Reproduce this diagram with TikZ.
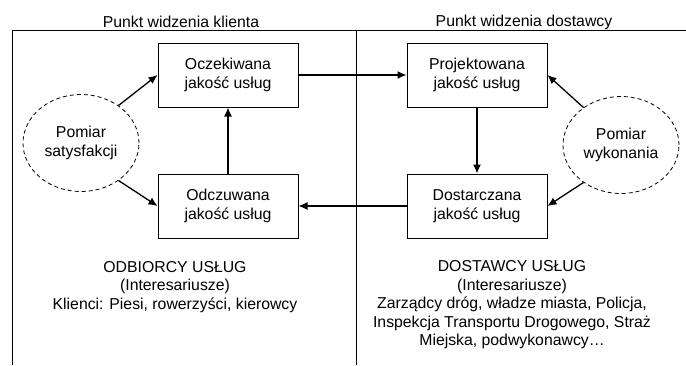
\documentclass[tikz,border=0pt]{standalone}
\usepackage{fontspec}
\setmainfont{Liberation Sans}
\usetikzlibrary{shapes.geometric,arrows.meta}
\tikzset{qbox/.style={draw,line width=1pt,minimum width=140pt,minimum height=64pt,align=center,inner sep=0pt}}
\tikzset{pomiar/.style={ellipse,draw,dash pattern=on 4pt off 3pt,line width=0.8pt,minimum width=116pt,minimum height=97pt,align=center,inner sep=0pt}}
\tikzset{strz/.style={-{Latex[length=9pt,width=8pt]},line width=1.3pt}}
\tikzset{frame/.style={line width=1pt}}
\begin{document}
\begin{tikzpicture}[x=1pt,y=-1pt,font=\fontsize{15.8pt}{18.5pt}\selectfont]
            \useasboundingbox (0,0) rectangle (686,365);
            % draw the frame
            \draw[frame] (12,365) -- (12,30) -- (686,30);
            \draw[frame] (356,30) -- (356,365);
            \node (tklient) at (181,22) {Punkt widzenia klienta};
            \node (tdostawca) at (524,22) {Punkt widzenia dostawcy};
            % draw the boxes
            \node[qbox] (ocz) at (228,75) {Oczekiwana\\jakość usług};
            \node[qbox] (odcz) at (228,206) {Odczuwana\\jakość usług};
            \node[qbox] (proj) at (477,75) {Projektowana\\jakość usług};
            \node[qbox] (dost) at (477,206) {Dostarczana\\jakość usług};
            % draw the measurements
            \node[pomiar] (sat) at (81,143) {Pomiar\\satysfakcji};
            \node[pomiar] (wyk) at (621,145) {Pomiar\\wykonania};
            % draw the arrows
            \draw[strz] (sat.45) -- (ocz.west);
            \draw[strz] (sat.-45) -- (odcz.west);
            \draw[strz] (odcz.north) -- (ocz.south);
            \draw[strz] (ocz.east) -- (proj.west);
            \draw[strz] (proj.south) -- (dost.north);
            \draw[strz] (dost.west) -- (odcz.east);
            \draw[strz] (wyk.135) -- (proj.east);
            \draw[strz] (wyk.225) -- (dost.east);
            % draw the stakeholders
            \node[align=center] (odbiorcy) at (175,287) {ODBIORCY USŁUG\\(Interesariusze)\\Klienci: Piesi, rowerzyści, kierowcy};
            \node[align=center] (dostawcy) at (512,305) {DOSTAWCY USŁUG\\(Interesariusze)\\Zarządcy dróg, władze miasta, Policja,\\Inspekcja Transportu Drogowego, Straż\\Miejska, podwykonawcy…};
        \end{tikzpicture}
\end{document}
